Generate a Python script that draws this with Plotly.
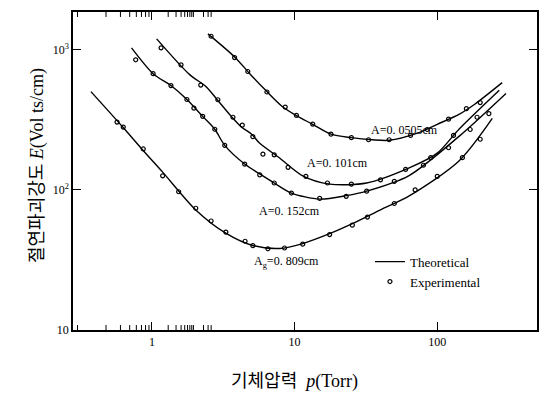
import plotly.graph_objects as go
import numpy as np

# Theoretical curves (pressure in Torr, field in V/cm)
p_0505 = [2.47, 3.8, 4.85, 6.2, 8.2, 10.3, 13.4, 18, 25, 35, 46, 72.5, 100, 142, 182, 285]
E_0505 = [1300, 890, 676, 520, 394, 339, 294, 250, 236, 228, 226, 254, 294, 346, 407, 583]

p_101 = [1.08, 1.84, 2.39, 2.9, 3.6, 4.26, 5.0, 5.7, 7.85, 11.4, 17.6, 32, 63, 100, 142, 272]
E_101 = [1197, 665, 547, 435, 335, 280, 250, 215, 169, 126, 110, 112, 143, 183, 271, 514]

p_152 = [0.72, 1.02, 1.36, 1.76, 2.27, 2.76, 3.24, 4.47, 5.7, 7.2, 9.5, 15, 23, 32, 63, 142, 303]
E_152 = [1033, 676, 556, 442, 335, 271, 208, 153, 130, 112, 95, 86, 91, 98, 126, 241, 488]

p_809 = [0.374, 0.627, 0.865, 1.19, 2.03, 3.34, 5.09, 7.86, 11.4, 17.6, 25.4, 40, 63.6, 142, 243]
E_809 = [503, 280, 192, 134, 72, 48.7, 40.1, 38.2, 41.4, 48.7, 57.4, 72, 90.6, 161, 324]

# Experimental points
xp_0505 = [2.6, 3.8, 4.7, 6.4, 8.6, 10.3, 13.4, 18, 25, 33, 46, 65, 85, 120, 160, 200]
xE_0505 = [1250, 880, 700, 500, 390, 340, 295, 250, 236, 228, 228, 245, 270, 320, 380, 420]

xp_101 = [1.16, 1.6, 2.2, 2.9, 3.7, 4.3, 5.1, 6.0, 7.2, 9, 12, 17, 25, 40, 60, 90, 130, 190]
xE_101 = [1033, 780, 560, 440, 330, 290, 240, 180, 178, 145, 125, 112, 110, 118, 140, 170, 245, 330]

xp_152 = [0.77, 1.02, 1.36, 1.76, 1.97, 2.27, 2.76, 3.24, 4.47, 5.7, 7.2, 9.5, 15, 23, 32, 50, 80, 120, 170, 230]
xE_152 = [849, 676, 556, 442, 383, 335, 271, 208, 153, 128, 112, 95, 87, 90, 98, 115, 150, 200, 270, 350]

xp_809 = [0.57, 0.63, 0.87, 1.19, 1.54, 2.03, 2.6, 3.3, 4.5, 5.1, 6.5, 8.5, 11.4, 17.6, 25.4, 32.4, 50, 70, 100, 150, 200]
xE_809 = [305, 281, 196, 126, 97, 74, 60, 50, 43, 40, 38, 38.5, 41, 48, 56, 64, 80, 100, 125, 170, 230]

# Axis ticks
x_major = [1, 10, 100]
x_major_text = ["1", "10", "100"]
x_minor = [0.3, 0.4, 0.5, 0.6, 0.7, 0.8, 0.9, 2, 3, 4, 5, 6, 7, 8, 9,
           20, 30, 40, 50, 60, 70, 80, 90, 200, 300, 400]
y_major = [10, 100, 1000]
y_major_text = ["10", "10<sup>2</sup>", "10<sup>3</sup>"]
y_minor = [20, 30, 40, 50, 60, 70, 80, 90, 200, 300, 400, 500, 600, 700, 800, 900]

fig = go.Figure()

serif = "Liberation Serif"
curves = [(p_0505, E_0505), (p_101, E_101), (p_152, E_152), (p_809, E_809)]
for i, (px, ey) in enumerate(curves):
    fig.add_trace(go.Scatter(x=px, y=ey, mode="lines",
                             line=dict(color="black", width=1.4, shape="spline", smoothing=0.8),
                             name="Theoretical", showlegend=(i == 0), legendrank=1))
pts = [(xp_0505, xE_0505), (xp_101, xE_101), (xp_152, xE_152), (xp_809, xE_809)]
for i, (px, ey) in enumerate(pts):
    fig.add_trace(go.Scatter(x=px, y=ey, mode="markers",
                             marker=dict(symbol="circle-open", size=4, color="black", line=dict(width=1.2)),
                             name="Experimental", showlegend=(i == 0), legendrank=2))

PLOT_W, PLOT_H = 464, 320
axis_common = dict(type="log", showgrid=False, zeroline=False, showline=True, linecolor="black", linewidth=1.5,
                   mirror="ticks", ticks="inside", ticklen=8, tickwidth=1.2, tickcolor="black",
                   tickfont=dict(family=serif, size=12, color="black"))

fig.update_xaxes(**axis_common, range=[np.log10(0.28), np.log10(500)],
                 tickmode="array", tickvals=x_major, ticktext=x_major_text)
fig.update_yaxes(**axis_common, range=[1, 3.27],
                 tickmode="array", tickvals=y_major, ticktext=y_major_text)

# minor ticks (inside, on all four sides)
shapes = []
mx = 5 / PLOT_H
for v in x_minor:
    for y0, y1 in [(0, mx), (1, 1 - mx)]:
        shapes.append(dict(type="line", xref="x", yref="paper", x0=np.log10(v), x1=np.log10(v),
                           y0=y0, y1=y1, line=dict(color="black", width=1)))
my = 4 / PLOT_W
for v in y_minor:
    for x0, x1 in [(0, my), (1, 1 - my)]:
        shapes.append(dict(type="line", xref="paper", yref="y", y0=np.log10(v), y1=np.log10(v),
                           x0=x0, x1=x1, line=dict(color="black", width=1.2)))

labels = [
    (58.8, 268, "A=0. 0505cm"),
    (20, 155, "A=0. 101cm"),
    (9.2, 71, "A=0. 152cm"),
    (8.8, 30.5, "A<sub>g</sub>=0. 809cm"),
]
for lx, ly, txt in labels:
    fig.add_annotation(x=np.log10(lx), y=np.log10(ly), text=txt, showarrow=False,
                       font=dict(family=serif, size=12, color="black"))

fig.add_annotation(xref="paper", yref="paper", x=-0.114, y=0.516, textangle=-90, showarrow=False,
                   text="<span style='font-family:Noto Sans CJK KR'>절연파괴강도</span> <i>E</i>(Vol ts/cm)",
                   font=dict(family=serif, size=18, color="black"))
fig.add_annotation(xref="paper", yref="paper", x=0.478, y=-0.153, yanchor="middle", showarrow=False,
                   text="<span style='font-family:Noto Sans CJK KR'>기체압력</span>  <i>p</i>(Torr)",
                   font=dict(family=serif, size=18, color="black"))

fig.update_layout(width=539, height=385, margin=dict(l=65, r=10, t=2, b=63),
                  plot_bgcolor="white", paper_bgcolor="white", shapes=shapes,
                  legend=dict(x=0.64, y=0.262, xanchor="left", yanchor="top", bgcolor="rgba(0,0,0,0)",
                              font=dict(family=serif, size=13, color="black"), tracegroupgap=2,
                              itemwidth=30))
fig.write_html("out.html")
